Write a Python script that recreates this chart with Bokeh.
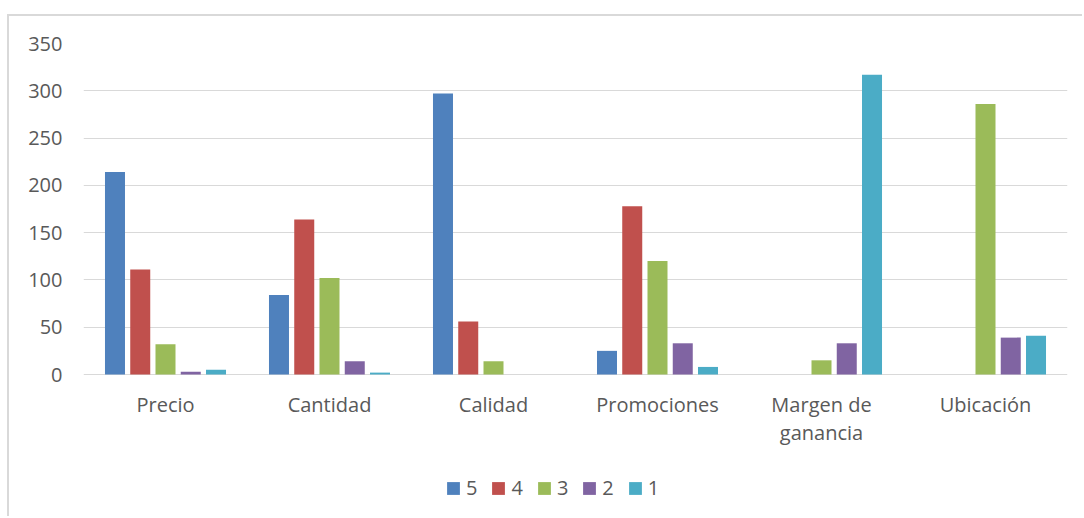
from bokeh.plotting import figure
from bokeh.models import ColumnDataSource, Legend, LegendItem, FixedTicker
from bokeh.core.properties import value
from bokeh.transform import dodge
from bokeh.embed import file_html
from bokeh.resources import INLINE

categories = ["Precio", "Cantidad", "Calidad", "Promociones", "Margen de\nganancia", "Ubicación"]
series_names = ["5", "4", "3", "2", "1"]
s5 = [214, 84, 297, 25, 0, 0]
s4 = [111, 164, 56, 178, 0, 0]
s3 = [32, 102, 14, 120, 15, 286]
s2 = [3, 14, 0, 33, 33, 39]
s1 = [5, 2, 0, 8, 317, 41]
y_ticks = [0, 50, 100, 150, 200, 250, 300, 350]
colors = ["#4F81BD", "#C0504D", "#9BBB59", "#8064A2", "#4BACC6"]

source = ColumnDataSource(dict(cat=categories, s5=s5, s4=s4, s3=s3, s2=s2, s1=s1,
                               zero=[0] * len(categories)))

W, H = 1075, 502
top_b = 27
frame_h = H - top_b
px_per_unit = 331 / 350
y_min = 350 - frame_h / px_per_unit

p = figure(x_range=categories, y_range=(y_min, 350), width=W, height=H,
           output_backend="svg", toolbar_location=None, x_axis_location=None,
           min_border_left=74, min_border_right=17, min_border_top=top_b, min_border_bottom=0)
p.styles = {"margin-left": "7px", "margin-top": "14px",
            "border-left": "2px solid #d9d9d9", "border-top": "2px solid #d9d9d9"}
p.outline_line_color = None
p.background_fill_color = "white"
p.border_fill_color = "white"

keys = ["s5", "s4", "s3", "s2", "s1"]
offsets = [-0.308, -0.154, 0.0, 0.154, 0.308]
renderers = []
for k, off, c in zip(keys, offsets, colors):
    r = p.vbar(x=dodge("cat", off, range=p.x_range), top=k, width=0.122,
               source=source, fill_color=c, line_color=None)
    renderers.append(r)

font = "Open Sans"
p.yaxis.ticker = FixedTicker(ticks=y_ticks)
p.yaxis.axis_line_color = None
p.yaxis.major_tick_line_color = None
p.yaxis.minor_tick_line_color = None
p.yaxis.major_tick_out = 0
p.yaxis.major_label_standoff = 21
p.yaxis.major_label_text_font = font
p.yaxis.major_label_text_font_size = "20px"
p.yaxis.major_label_text_color = "#595959"

p.xgrid.grid_line_color = None
p.ygrid.grid_line_color = "#d9d9d9"
p.ygrid.grid_line_width = 1

# category axis labels (category axis drawn inside the frame)
p.text(x="cat", y="zero", text="cat", source=source, y_offset=16,
       text_align="center", text_baseline="top", text_line_height=1.05,
       text_font=value(font), text_font_size=value("20px"), text_color="#595959")

legend = Legend(items=[LegendItem(label=n, renderers=[r]) for n, r in zip(series_names, renderers)],
                orientation="horizontal", location=(362, 17),
                glyph_width=16, glyph_height=16, label_standoff=5, label_width=11,
                spacing=13, padding=4, margin=0,
                label_text_font=font, label_text_font_size="20px",
                label_text_color="#595959", border_line_color=None,
                background_fill_alpha=0)
p.add_layout(legend, "center")

open("out.html", "w").write(file_html(p, INLINE))
